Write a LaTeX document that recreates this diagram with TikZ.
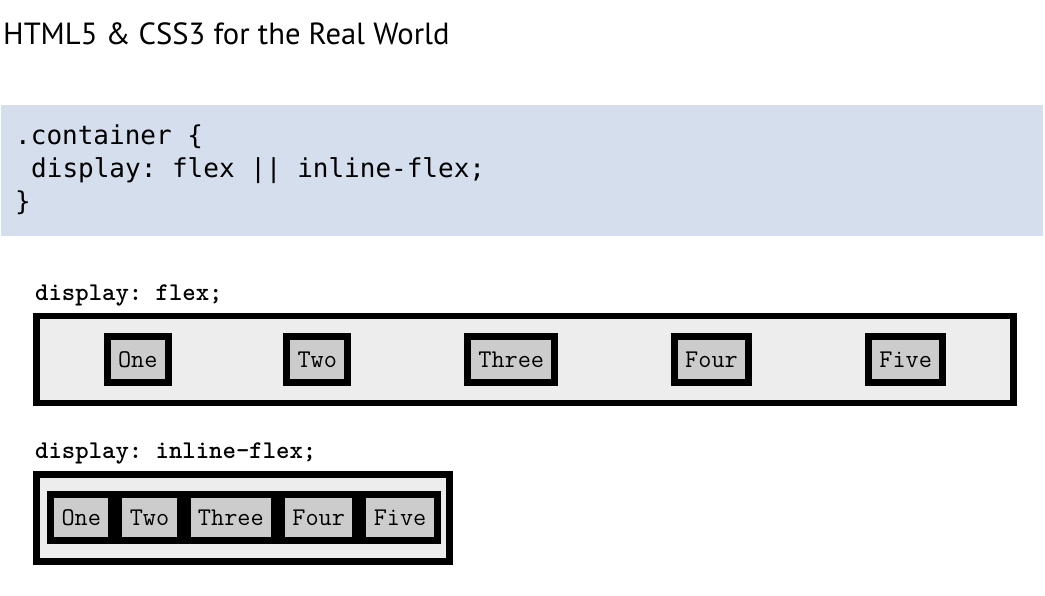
\documentclass[tikz,border=0pt]{standalone}
\usepackage{fontspec}
\setmainfont{PT Sans}
\newfontfamily\codefont{DejaVu Sans Mono}
\usepackage{xcolor}
\usepackage{tikz}
\usetikzlibrary{positioning}

\definecolor{codebg}{HTML}{D5DEEC}
\definecolor{boxbg}{HTML}{EDEDED}
\definecolor{itembg}{HTML}{CCCCCC}

\frenchspacing

\begin{document}
\begin{tikzpicture}[
    x=1pt, y=-1pt,
    node distance=7pt,
    codeline/.style={anchor=base west, inner sep=0pt, font=\codefont\fontsize{26}{30}\selectfont},
    caption/.style={anchor=base west, inner sep=0pt, font=\ttfamily\bfseries\fontsize{25.5}{28}\selectfont},
    container/.style={rectangle, draw=black, fill=boxbg, line width=6.7pt, inner sep=0pt, outer sep=0pt},
    item/.style={rectangle, draw=black, fill=itembg, line width=7pt, inner xsep=10.9pt, inner ysep=0pt, minimum height=46pt, outer sep=0pt, font=\ttfamily\fontsize{25.5}{28}\selectfont}
]
\useasboundingbox (0,0) rectangle (1045,595);

% Title
\node[anchor=base west, inner sep=0pt, font=\fontsize{30.6}{34}\selectfont] (title) at (3,44) {HTML5 \& CSS3 for the Real World};

% Code block
\node[rectangle, fill=codebg, minimum width=1042pt, minimum height=131pt, inner sep=0pt, anchor=north west] (code) at (1,105) {};
\node[codeline] (line1) at (15,144) {.container \{};
\node[codeline] (line2) at (31,177) {display: flex || inline-flex;};
\node[codeline] (line3) at (15,210) {\}};

% display: flex
\node[caption] (flexcap) at (35,300) {display: flex;};
\node[container, minimum width=976.6pt, minimum height=87.2pt] (flexbox) at (525,359.5) {};
\foreach \txt/\x in {One/137.7, Two/317.2, Three/511.2, Four/711.5, Five/905.7}
    \node[item] (flex\txt) at (\x,359.3) {\txt};

% display: inline-flex
\node[caption] (inlinecap) at (35,458) {display: inline-flex;};
\node[container, minimum width=412.4pt, minimum height=87.3pt] (inlinebox) at (243,517.85) {};
\node[item] (inlineOne) at (81.3,517.8) {One};
\node[item, right=of inlineOne] (inlineTwo) {Two};
\node[item, right=of inlineTwo] (inlineThree) {Three};
\node[item, right=of inlineThree] (inlineFour) {Four};
\node[item, right=of inlineFour] (inlineFive) {Five};

\end{tikzpicture}
\end{document}
